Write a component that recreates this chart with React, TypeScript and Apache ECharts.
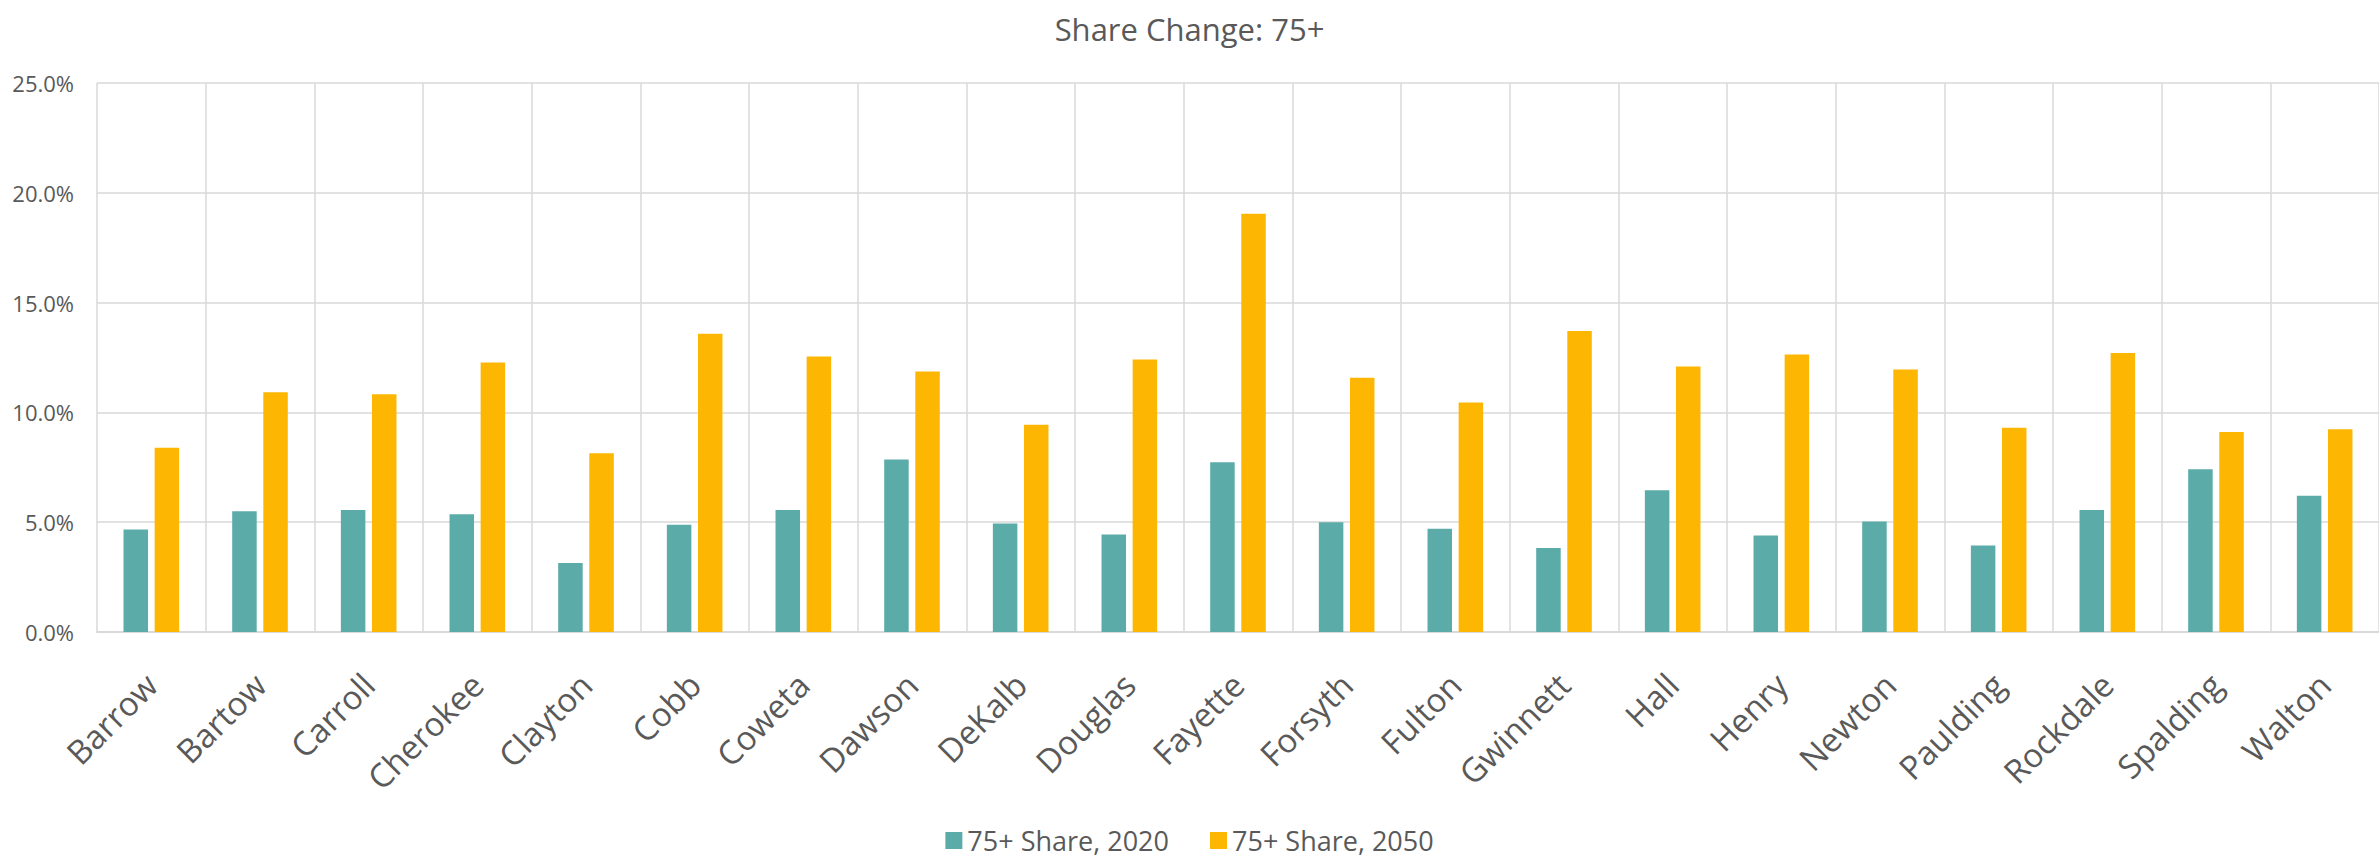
import React, { useEffect, useRef } from "react";
import * as echarts from "echarts";

const categories = [
  "Barrow", "Bartow", "Carroll", "Cherokee", "Clayton", "Cobb", "Coweta",
  "Dawson", "DeKalb", "Douglas", "Fayette", "Forsyth", "Fulton", "Gwinnett",
  "Hall", "Henry", "Newton", "Paulding", "Rockdale", "Spalding", "Walton",
];

const share2020 = [
  4.67, 5.5, 5.55, 5.36, 3.14, 4.88, 5.56,
  7.85, 4.94, 4.44, 7.73, 5.0, 4.7, 3.82,
  6.45, 4.39, 5.03, 3.94, 5.55, 7.41, 6.21,
];

const share2050 = [
  8.39, 10.92, 10.83, 12.27, 8.14, 13.58, 12.55,
  11.86, 9.44, 12.41, 19.05, 11.58, 10.45, 13.71,
  12.09, 12.64, 11.95, 9.3, 12.7, 9.11, 9.23,
];

const seriesNames = ["75+ Share, 2020", "75+ Share, 2050"];
const titleText = "Share Change: 75+";
const yTicks = { min: 0, max: 25, interval: 5 };

const TEAL = "#5BABA9";
const GOLD = "#FDB702";
const TEXT = "#595959";
const GRID = "#D9D9D9";
const FONT = "'Open Sans', sans-serif";

export default function App() {
  const ref = useRef<HTMLDivElement>(null);

  useEffect(() => {
    if (!ref.current) return;
    const chart = echarts.init(ref.current, null, { renderer: "svg" });
    chart.setOption({
      animation: false,
      backgroundColor: "#ffffff",
      textStyle: { fontFamily: FONT },
      title: {
        text: titleText,
        left: "center",
        top: 8,
        textStyle: { fontFamily: FONT, fontSize: 31, fontWeight: "normal", color: TEXT },
      },
      legend: {
        data: seriesNames,
        left: "center",
        top: 822,
        itemWidth: 17,
        itemHeight: 17,
        itemGap: 41,
        icon: "rect",
        textStyle: { fontFamily: FONT, fontSize: 27, color: TEXT, padding: [0, 0, 0, 0] },
      },
      grid: { left: 97, right: -9, top: 83, bottom: 230, containLabel: false },
      xAxis: {
        type: "category",
        data: categories,
        boundaryGap: true,
        axisLine: { show: true, lineStyle: { color: GRID, width: 2 } },
        axisTick: { show: false },
        splitLine: { show: true, interval: 0, lineStyle: { color: GRID, width: 1.5 } },
        axisLabel: {
          interval: 0,
          rotate: 45,
          margin: 47,
          fontFamily: FONT,
          fontSize: 33,
          color: TEXT,
        },
      },
      yAxis: {
        type: "value",
        min: yTicks.min,
        max: yTicks.max,
        interval: yTicks.interval,
        axisLine: { show: false },
        axisTick: { show: false },
        splitLine: { show: true, lineStyle: { color: GRID, width: 1.5 } },
        axisLabel: {
          margin: 23,
          fontFamily: FONT,
          fontSize: 22,
          color: TEXT,
          formatter: (v: number) => v.toFixed(1) + "%",
        },
      },
      series: [
        {
          name: seriesNames[0],
          type: "bar",
          data: share2020,
          barWidth: 24.5,
          barGap: "27%",
          itemStyle: { color: TEAL },
        },
        {
          name: seriesNames[1],
          type: "bar",
          data: share2050,
          barWidth: 24.5,
          barGap: "27%",
          itemStyle: { color: GOLD },
        },
      ],
    });
    return () => chart.dispose();
  }, []);

  return (
    <div
      ref={ref}
      style={{ position: "absolute", left: 0, top: 0, width: 2379, height: 862 }}
    />
  );
}
